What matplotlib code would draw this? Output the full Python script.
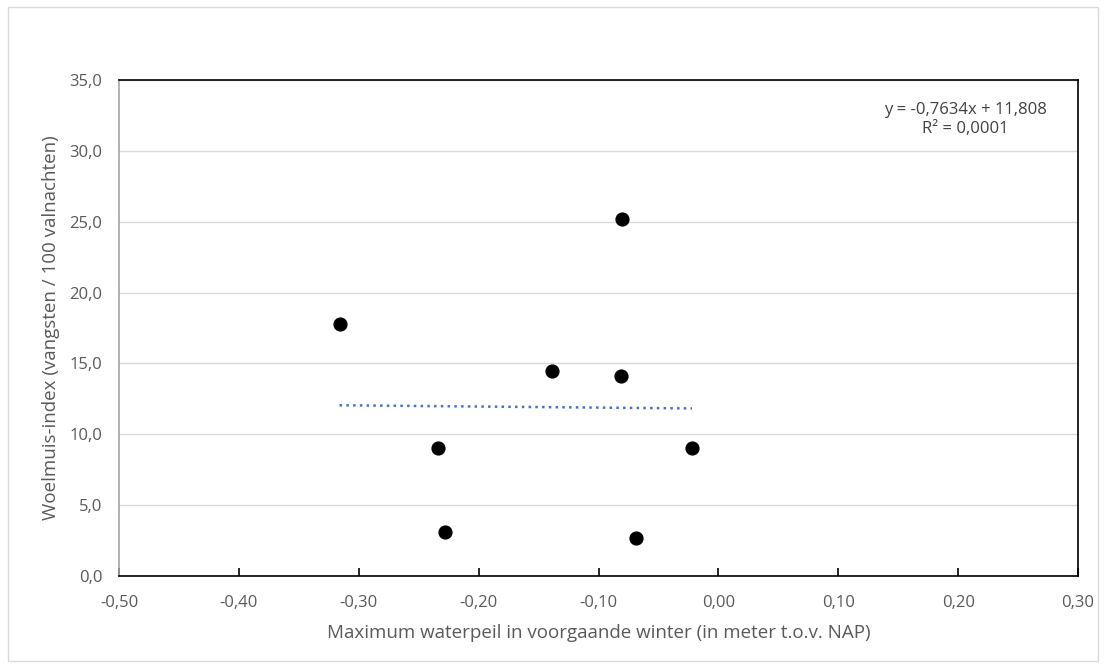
import matplotlib.pyplot as plt
from matplotlib.patches import Rectangle
from matplotlib.ticker import FuncFormatter

# waterpeil (m t.o.v. NAP) en woelmuis-index
waterpeil = [-0.316, -0.0805, -0.139, -0.081, -0.234, -0.022, -0.228, -0.069]
woelmuis_index = [17.8, 25.2, 14.5, 14.1, 9.0, 9.0, 3.1, 2.7]

# trendlijn uit Excel
helling = -0.7634
snijpunt = 11.808
r_kwadraat = '0,0001'

x_ticks = [-0.5, -0.4, -0.3, -0.2, -0.1, 0.0, 0.1, 0.2, 0.3]
y_ticks = [0, 5, 10, 15, 20, 25, 30, 35]

plt.rcParams['font.family'] = ['Open Sans', 'DejaVu Sans']

fig = plt.figure(figsize=(11.06, 6.68), dpi=100)
fig.patches.append(Rectangle((8 / 1106, 7 / 668), 1090 / 1106, 654 / 668,
                             transform=fig.transFigure, fill=False,
                             edgecolor='#D9D9D9', linewidth=1))

ax = fig.add_axes([0.1076, 0.1377, 0.8671, 0.7425])

ax.scatter(waterpeil, woelmuis_index, s=85, color='black', zorder=3)

x_lijn = [min(waterpeil), max(waterpeil)]
y_lijn = [helling * x + snijpunt for x in x_lijn]
ax.plot(x_lijn, y_lijn, color='#4472C4', linestyle=(0, (1, 1.7)), linewidth=1.8, zorder=2)

ax.set_xlim(-0.5, 0.3)
ax.set_ylim(0, 35)
ax.set_xticks(x_ticks)
ax.set_yticks(y_ticks)
ax.xaxis.set_major_formatter(FuncFormatter(lambda v, p: f'{v:.2f}'.replace('.', ',')))
ax.yaxis.set_major_formatter(FuncFormatter(lambda v, p: f'{v:.1f}'.replace('.', ',')))
ax.tick_params(axis='x', direction='in', length=6, width=1.2, color='black',
               labelsize=12, labelcolor='#595959', pad=14)
ax.tick_params(axis='y', length=0, labelsize=12, labelcolor='#595959', pad=12)

ax.grid(axis='y', color='#D9D9D9', linewidth=1)
ax.set_axisbelow(True)

for kant in ['top', 'right', 'bottom']:
    ax.spines[kant].set_color('black')
    ax.spines[kant].set_linewidth(1.2)
ax.spines['left'].set_color('#A6A6A6')
ax.spines['left'].set_linewidth(1.2)

ax.set_xlabel('Maximum waterpeil in voorgaande winter (in meter t.o.v. NAP)',
              fontsize=13.5, color='#595959', labelpad=9)
ax.set_ylabel('Woelmuis-index (vangsten / 100 valnachten)',
              fontsize=13.5, color='#595959', labelpad=7)

tekst = f'y = {helling:.4f}x + {snijpunt:.3f}'.replace('.', ',') + f'\nR² = {r_kwadraat}'
ax.text(0.8827, 0.920, tekst, transform=ax.transAxes, ha='center', va='center',
        fontsize=12, color='#404040', linespacing=1.25)

fig.savefig('out.png', dpi=100)
